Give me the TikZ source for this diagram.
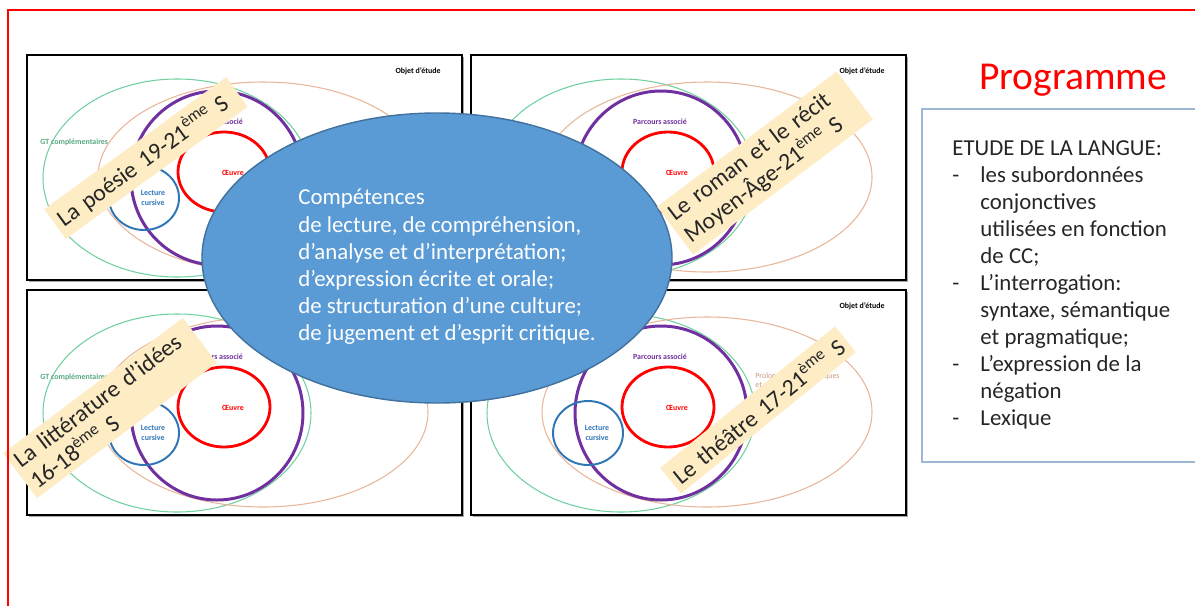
\documentclass[tikz,border=0pt]{standalone}
\usepackage{fontspec}
\setmainfont{Carlito}
\usepackage{xcolor}

\definecolor{gtvert}{RGB}{112,208,160}
\definecolor{brun}{RGB}{232,182,152}
\definecolor{parcours}{RGB}{112,48,160}
\definecolor{lecture}{RGB}{46,117,182}
\definecolor{bulle}{RGB}{91,155,213}
\definecolor{bullebord}{RGB}{65,113,156}
\definecolor{etiquette}{RGB}{253,236,196}
\definecolor{cadre}{RGB}{157,183,213}

\newcommand{\tiret}{\makebox[16pt][l]{-}}
\newcommand{\retrait}{\hspace*{16pt}}

\tikzset{
  petit/.style={font=\fontsize{4.5}{5.2}\selectfont\bfseries, align=center, inner sep=0pt},
  texte/.style={font=\fontsize{13}{15.4}\selectfont, align=left, inner sep=0pt},
  bande/.style={fill=etiquette, text=black!85, font=\fontsize{13.5}{15.4}\selectfont,
    align=left, text width=122pt, inner xsep=3pt, inner ysep=3.5pt},
}

\begin{document}
\begin{tikzpicture}[x=0.02cm, y=-0.02cm]
		\useasboundingbox (0,0) rectangle (1195,605);
		% les quatre objets d'etude
		\foreach \qx/\qy/\qn in {27/55/hg, 471/55/hd, 27/290/bg, 471/290/bd} {
			\begin{scope}[shift={(\qx,\qy)}]
				\fill[black!35] (2,2) rectangle (437,227);
				\draw[line width=1.4pt, fill=white] (0,0) rectangle (435,225);
				\draw[gtvert, line width=0.6pt] (150,123) ellipse [x radius=134, y radius=99];
				\draw[brun, line width=0.6pt] (236,122) ellipse [x radius=165, y radius=95];
				\draw[parcours, line width=1.7pt] (190,123) ellipse [x radius=86, y radius=87];
				\draw[red, line width=1.6pt] (197,117) ellipse [x radius=46, y radius=40];
				\draw[lecture, line width=1.1pt] (117,143) ellipse [x radius=35, y radius=32];
				\node[petit] (objet-\qn) at (391,16) {Objet d’étude};
				\node[petit, text=gtvert!80!black, anchor=west] (gt-\qn) at (13,87) {GT complémentaires};
				\node[petit, text=parcours] (parcours-\qn) at (189,67) {Parcours associé};
				\node[petit, text=red] (oeuvre-\qn) at (206,118) {Œuvre};
				\node[petit, text=lecture] (lecture-\qn) at (126,143) {Lecture\\cursive};
			\end{scope}
		}
		\node[petit, font=\fontsize{4.5}{5.2}\selectfont, text=brun!85!black, anchor=north west, align=left]
			(prolongements) at (755,373) {Prolongements artistiques\\et culturels};
		% competences
		\draw[fill=bulle, draw=bullebord, line width=0.8pt] (437,258) ellipse [x radius=235, y radius=145];
		\node[texte, text=white, anchor=north west] (competences) at (298,189) {Compétences\\
			de lecture, de compréhension,\\
			d’analyse et d’interprétation;\\
			d’expression écrite et orale;\\
			de structuration d’une culture;\\
			de jugement et d’esprit critique.};
		% etiquettes
		\node[bande, rotate=36] (poesie) at (146,158) {La poésie 19-21\textsuperscript{ème} S};
		\node[bande, rotate=37] (roman) at (765,163) {Le roman et le récit\\Moyen-Âge-21\textsuperscript{ème} S};
		\node[bande, rotate=37] (idees) at (110,408) {La littérature d’idées\\16-18\textsuperscript{ème} S};
		\node[bande, rotate=39] (theatre) at (758,410) {Le théâtre 17-21\textsuperscript{ème} S};
		% programme
		\node[text=red, font=\fontsize{22.5}{27}\selectfont] (programme) at (1073,80) {Programme};
		\draw[cadre, line width=1pt] (1197,109) -- (922,109) -- (922,462) -- (1197,462);
		\node[texte, text=black!85, anchor=north west] (langue) at (952,140) {ETUDE DE LA LANGUE:\\
			\tiret les subordonnées\\
			\retrait conjonctives\\
			\retrait utilisées en fonction\\
			\retrait de CC;\\
			\tiret L’interrogation:\\
			\retrait syntaxe, sémantique\\
			\retrait et pragmatique;\\
			\tiret L’expression de la\\
			\retrait négation\\
			\tiret Lexique};
		% cadre
		\draw[red, line width=1.1pt] (8,606) -- (8,10) -- (1196,10);
		\end{tikzpicture}
\end{document}
